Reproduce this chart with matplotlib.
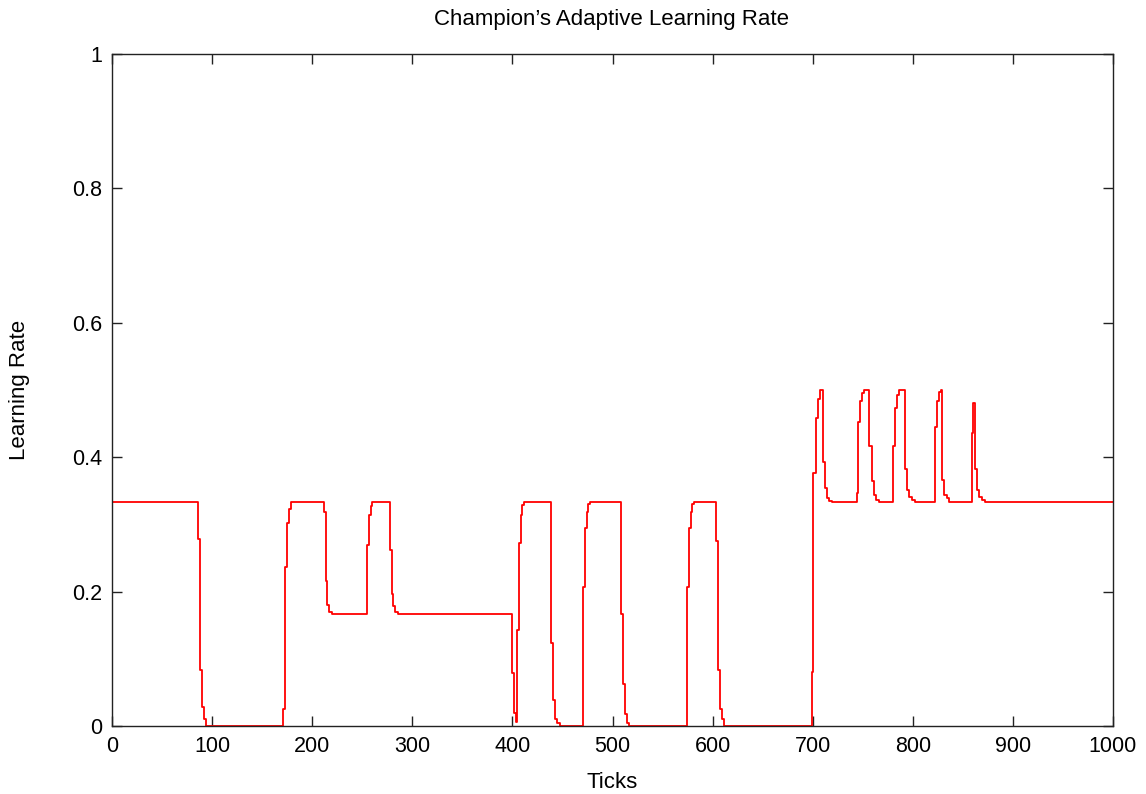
import matplotlib
matplotlib.use("Agg")
import matplotlib.pyplot as plt

# step breakpoints (tick, learning rate held until next tick)
ticks = [
    0, 86, 88, 90, 92, 94,
    171, 173, 175, 176.5, 178.5,
    212, 213.5, 215, 217, 219.5,
    255, 256.7, 258.4, 260,
    277.7, 279.4, 281, 283, 286,
    400, 401.6, 403.3, 405, 406.6, 408.3, 410, 411.6,
    438.2, 440.2, 442.6, 444.9, 447.6,
    470.5, 472.5, 474.2, 475.8, 477.5,
    508.5, 510.8, 512.5, 514.2, 516.5,
    574.7, 576.4, 578, 579.7, 581.4,
    603.4, 605, 607, 609, 611.4,
    699, 700.6, 703, 705, 707,
    710.3, 712.3, 714, 716.3, 719.6,
    744, 745.6, 747.3, 749.6, 751.6,
    756.3, 759, 761, 763, 766.2,
    780.5, 782.2, 784, 786.2,
    792.2, 794.5, 796.5, 798.9, 802.2,
    822.2, 824.5, 826.5, 828.2,
    829.2, 831.5, 834, 836.5,
    858.8, 860.4,
    862.1, 864.1, 866.1, 868.8, 872,
    1000,
]
rate = [
    0.3333, 0.278, 0.083, 0.028, 0.010, 0.0,
    0.025, 0.237, 0.302, 0.323, 0.3333,
    0.318, 0.216, 0.180, 0.170, 0.1667,
    0.269, 0.314, 0.328, 0.3333,
    0.262, 0.196, 0.178, 0.170, 0.1667,
    0.079, 0.019, 0.006, 0.143, 0.272, 0.314, 0.329, 0.3333,
    0.123, 0.039, 0.011, 0.004, 0.0,
    0.207, 0.294, 0.319, 0.330, 0.3333,
    0.167, 0.063, 0.018, 0.005, 0.0,
    0.207, 0.294, 0.319, 0.330, 0.3333,
    0.276, 0.083, 0.026, 0.011, 0.0,
    0.081, 0.376, 0.458, 0.486, 0.5,
    0.393, 0.354, 0.340, 0.335, 0.3333,
    0.347, 0.453, 0.484, 0.495, 0.5,
    0.416, 0.364, 0.344, 0.336, 0.3333,
    0.416, 0.473, 0.493, 0.5,
    0.383, 0.351, 0.341, 0.336, 0.3333,
    0.445, 0.483, 0.497, 0.5,
    0.366, 0.344, 0.339, 0.3333,
    0.436, 0.481,
    0.383, 0.351, 0.341, 0.336, 0.3333,
    0.3333,
]

x_ticks = list(range(0, 1001, 100))
y_ticks = [0, 0.2, 0.4, 0.6, 0.8, 1]
y_labels = ["0", "0.2", "0.4", "0.6", "0.8", "1"]

plt.rcParams["font.family"] = ["Liberation Sans", "DejaVu Sans"]

W, H = 1146, 794
fig = plt.figure(figsize=(W / 100, H / 100), dpi=100)
ax = fig.add_axes([112 / W, 1 - 726 / H, (1113 - 112) / W, (726 - 54) / H])

ax.plot(ticks, rate, drawstyle="steps-post", color="#ff0000", lw=1.3)

ax.set_xlim(0, 1000)
ax.set_ylim(0, 1)
ax.set_xticks(x_ticks)
ax.set_yticks(y_ticks)
ax.set_yticklabels(y_labels)
ax.tick_params(direction="in", length=7.5, width=1, top=True, right=True,
               labelsize=15.5, color="#222222")
ax.tick_params(axis="x", pad=7)
ax.tick_params(axis="y", pad=7)
for s in ax.spines.values():
    s.set_color("#222222")
    s.set_linewidth(1)

fig.text(612 / W, 1 - 20 / H, "Champion\u2019s Adaptive Learning Rate",
         fontsize=16, ha="center", va="center")
ax.set_xlabel("Ticks", fontsize=16)
ax.xaxis.label.set_va("center")
ax.xaxis.set_label_coords(0.5, (726 - 782) / 672)
ax.set_ylabel("Learning Rate", fontsize=16)
ax.yaxis.label.set_va("center")
ax.yaxis.label.set_ha("center")
ax.yaxis.set_label_coords((20 - 112) / 1001, 0.5)

fig.savefig("out.png", dpi=100)
